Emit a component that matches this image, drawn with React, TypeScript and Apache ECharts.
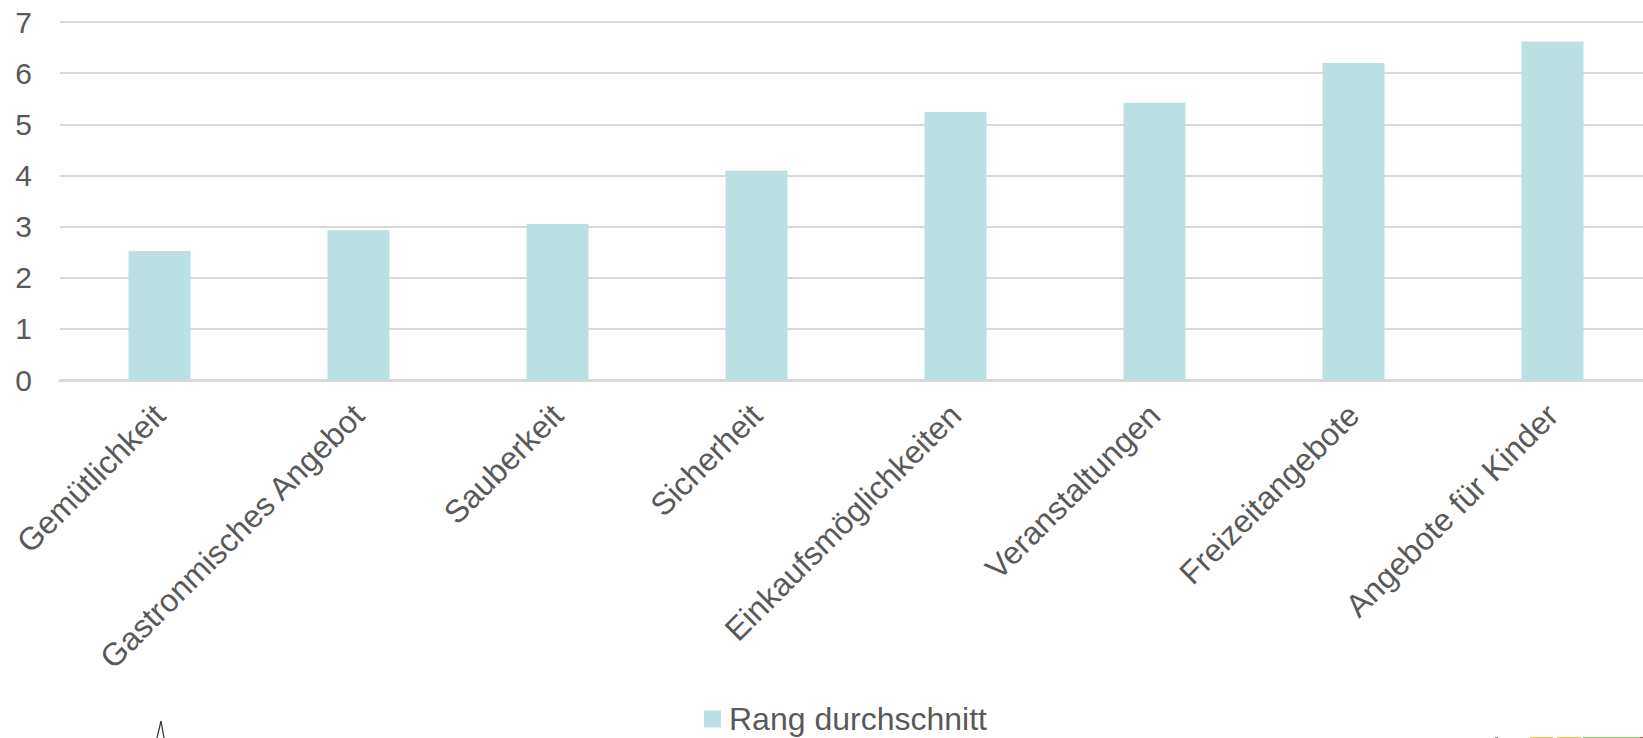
import React, { useEffect, useRef } from "react";
import * as echarts from "echarts";

const categories = [
  "Gemütlichkeit",
  "Gastronmisches Angebot",
  "Sauberkeit",
  "Sicherheit",
  "Einkaufsmöglichkeiten",
  "Veranstaltungen",
  "Freizeitangebote",
  "Angebote für Kinder",
];
const values = [2.52, 2.93, 3.05, 4.09, 5.24, 5.42, 6.2, 6.62];
const seriesName = "Rang durchschnitt";
const yMin = 0;
const yMax = 7;
const yInterval = 1;

const FONT = "'Liberation Sans', Arial, sans-serif";
const TEXT = "#595959";

export default function App() {
  const ref = useRef<HTMLDivElement>(null);
  useEffect(() => {
    if (!ref.current) return;
    const chart = echarts.init(ref.current, null, { renderer: "svg" });
    chart.setOption({
      animation: false,
      backgroundColor: "#ffffff",
      grid: { left: 60, top: 22, width: 1592, bottom: 358, containLabel: false },
      legend: {
        data: [seriesName],
        left: 704,
        top: 703,
        padding: 0,
        icon: "rect",
        itemWidth: 17,
        itemHeight: 17,
        textStyle: { fontSize: 32, color: TEXT, fontFamily: FONT, padding: [0, 0, 0, 3] },
      },
      xAxis: {
        type: "category",
        data: categories,
        boundaryGap: true,
        axisLine: { show: true, lineStyle: { color: "#d9d9d9", width: 3 } },
        axisTick: { show: false },
        axisLabel: {
          rotate: 45,
          interval: 0,
          margin: 30,
          fontSize: 32,
          color: TEXT,
          fontFamily: FONT,
        },
      },
      yAxis: {
        type: "value",
        min: yMin,
        max: yMax,
        interval: yInterval,
        axisLine: { show: false },
        axisTick: { show: false },
        splitLine: { lineStyle: { color: "#d9d9d9", width: 2 } },
        axisLabel: { fontSize: 30, color: TEXT, fontFamily: FONT, margin: 28 },
      },
      series: [
        {
          name: seriesName,
          type: "bar",
          data: values,
          barWidth: 62,
          itemStyle: { color: "#bae0e3" },
        },
      ],
      graphic: [
        {
          type: "polyline",
          shape: { points: [[157, 738], [161, 721], [164, 738]] },
          style: { stroke: "#333", lineWidth: 1.2, fill: "none" },
        },
        { type: "rect", shape: { x: 1495, y: 737, width: 3, height: 1 }, style: { fill: "#808080" } },
        { type: "rect", shape: { x: 1530, y: 737, width: 23, height: 1 }, style: { fill: "#f5c242" } },
        { type: "rect", shape: { x: 1557, y: 737, width: 24, height: 1 }, style: { fill: "#f5c242" } },
        { type: "rect", shape: { x: 1583, y: 737, width: 57, height: 1 }, style: { fill: "#92c86a" } },
        { type: "rect", shape: { x: 1640, y: 737, width: 3, height: 1 }, style: { fill: "#e05050" } },
      ],
    });
    return () => chart.dispose();
  }, []);
  return (
    <div style={{ position: "fixed", left: 0, top: 0, width: 1643, height: 738, overflow: "hidden", background: "#fff" }}>
      <div ref={ref} style={{ position: "absolute", left: 0, top: 0, width: 1660, height: 738 }} />
    </div>
  );
}
